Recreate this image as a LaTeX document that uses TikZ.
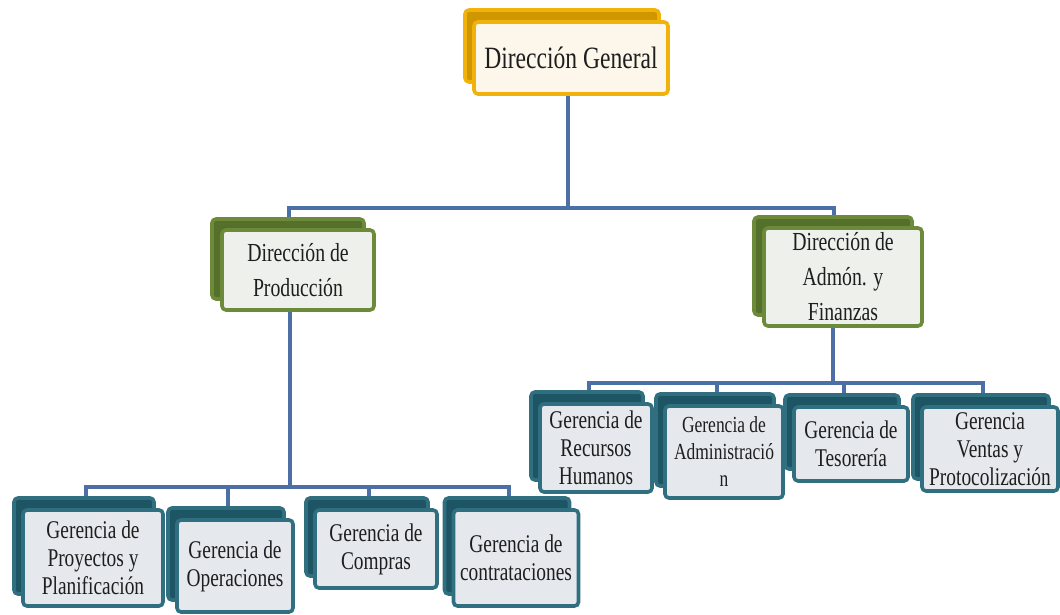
\documentclass[tikz,border=0pt]{standalone}
\usepackage{fontspec}
\setmainfont{Liberation Serif}[FakeStretch=0.76]
\usetikzlibrary{
  shadows,      % "copy shadow" for the stacked back boxes
  backgrounds,  % connectors behind the boxes
  positioning,
}
\definecolor{goldline}{HTML}{F2B20C}
\definecolor{goldback}{HTML}{CF9600}
\definecolor{goldfill}{HTML}{FCF7EA}
\definecolor{oliveline}{HTML}{6C8A3A}
\definecolor{oliveback}{HTML}{55702A}
\definecolor{olivefill}{HTML}{EEF0EB}
\definecolor{tealline}{HTML}{2F6F80}
\definecolor{tealback}{HTML}{1D5565}
\definecolor{tealfill}{HTML}{E5E9EE}
\definecolor{linkblue}{HTML}{4C70A6}
\definecolor{inkgray}{HTML}{1E1E1E}
\tikzset{
  org box/.style={
    draw,
    rounded corners=4pt,
    line width=3.6pt,
    align=center,
    inner sep=1pt,
    text=inkgray
  },
  boxsize/.style 2 args={
    minimum width=#1,
    minimum height=#2
  },
  gen box/.style={
    org box,
    draw=goldline,
    fill=goldfill,
    copy shadow={shadow xshift=-9pt,shadow yshift=12pt,fill=goldback,draw=goldline},
    font=\fontsize{31}{36}\selectfont
  },
  dir box/.style={
    org box,
    draw=oliveline,
    fill=olivefill,
    copy shadow={shadow xshift=-10pt,shadow yshift=11pt,fill=oliveback,draw=oliveline},
    font=\fontsize{26}{35}\selectfont
  },
  ger box/.style={
    org box,
    draw=tealline,
    fill=tealfill,
    copy shadow={shadow xshift=-9pt,shadow yshift=12pt,fill=tealback,draw=tealline},
    font=\fontsize{25.5}{28}\selectfont
  },
  ger small/.style={
    ger box,
    font=\fontsize{23}{27}\selectfont
  },
  link/.style={
    draw=linkblue,
    line width=3.6pt
  }
}

\begin{document}
\begin{tikzpicture}[x=1pt,y=-1pt]
\useasboundingbox (0,0) rectangle (1060,615);
% top level
\node[gen box,boxsize={194pt}{72pt}] (dg) at (571,58) {Dirección General};
% second level
\node[dir box,boxsize={152pt}{80pt}] (dprod) at (298,270) {Dirección de\\Producción};
\node[dir box,boxsize={158pt}{98pt}] (dadm) at (843,277) {Dirección de\\Admón. y\\Finanzas};
% third level, production side
\node[ger box,boxsize={140pt}{96pt}] (gpro) at (93,558) {Gerencia de\\Proyectos y\\Planificación};
\node[ger box,boxsize={116pt}{92pt}] (gope) at (235,566) {Gerencia de\\Operaciones};
\node[ger box,boxsize={122pt}{78pt}] (gcom) at (376,549) {Gerencia de\\Compras};
\node[ger box,boxsize={125pt}{96pt}] (gcon) at (516,558) {Gerencia de\\contrataciones};
% third level, administration side
\node[ger box,boxsize={112pt}{88pt}] (grh) at (596,448) {Gerencia de\\Recursos\\Humanos};
\node[ger small,boxsize={118pt}{92pt}] (gadm) at (724,452) {Gerencia de\\Administració\\n};
\node[ger box,boxsize={114pt}{74pt}] (gtes) at (851,444) {Gerencia de\\Tesorería};
\node[ger box,boxsize={136pt}{84pt}] (gven) at (990,449) {Gerencia\\Ventas y\\Protocolización};
% connectors
\coordinate (bus1) at (0,208);
\coordinate (bus2) at (0,487);
\coordinate (bus3) at (0,383);
\begin{scope}[on background layer]
  \draw[link] ([xshift=-3pt]dg.south) -- ([xshift=-3pt]dg.south |- bus1);
  \foreach \n in {dprod,dadm}
    \draw[link] ([xshift=-3pt]dg.south |- bus1) -| ([xshift=-9pt]\n.north);
  \draw[link] ([xshift=-8pt]dprod.south) -- ([xshift=-8pt]dprod.south |- bus2);
  \foreach \n in {gpro,gope,gcom,gcon}
    \draw[link] ([xshift=-8pt]dprod.south |- bus2) -| ([xshift=-7pt]\n.north);
  \draw[link] ([xshift=-10pt]dadm.south) -- ([xshift=-10pt]dadm.south |- bus3);
  \foreach \n in {grh,gadm,gtes,gven}
    \draw[link] ([xshift=-10pt]dadm.south |- bus3) -| ([xshift=-7pt]\n.north);
\end{scope}
\end{tikzpicture}
\end{document}
